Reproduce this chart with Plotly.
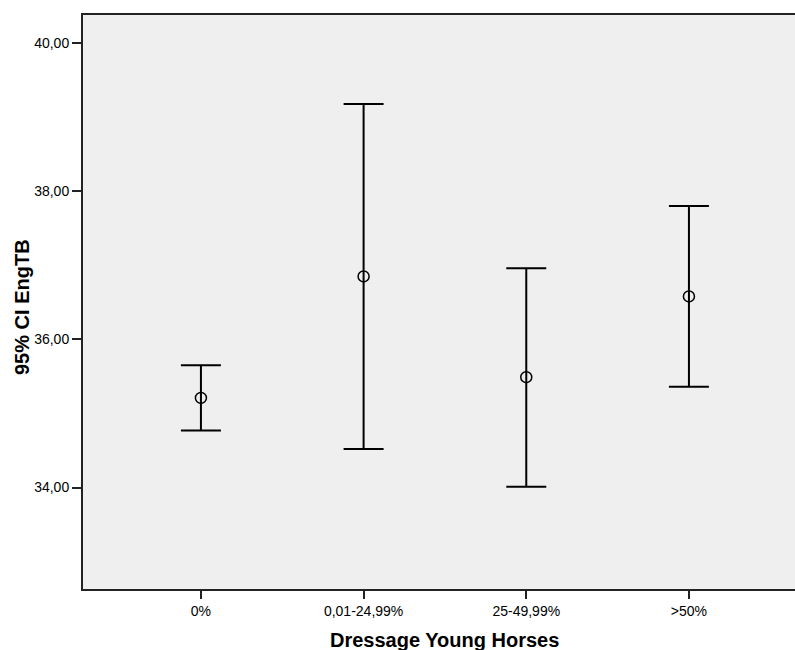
import plotly.graph_objects as go

categories = ["0%", "0,01-24,99%", "25-49,99%", ">50%"]
means = [35.21, 36.85, 35.49, 36.58]
upper = [35.65, 39.18, 36.96, 37.80]
lower = [34.77, 34.52, 34.01, 35.36]

x_idx = list(range(len(categories)))
err_plus = [u - m for u, m in zip(upper, means)]
err_minus = [m - l for m, l in zip(means, lower)]

fig = go.Figure()
fig.add_trace(go.Scatter(
    x=x_idx, y=means, mode="markers",
    marker=dict(symbol="circle-open", size=11, color="black", line=dict(width=1.5, color="black")),
    error_y=dict(type="data", symmetric=False, array=err_plus, arrayminus=err_minus,
                 color="black", thickness=2, width=20),
    showlegend=False,
))

fig.update_layout(
    width=795, height=650,
    margin=dict(l=83, r=0, t=15, b=61),
    paper_bgcolor="white", plot_bgcolor="#efefef",
    separators=",.",
    font=dict(family="Arial, Liberation Sans, sans-serif", color="black"),
    xaxis=dict(
        range=[-0.725, 3.652], tickmode="array", tickvals=x_idx, ticktext=categories,
        showline=True, linecolor="#222", linewidth=2, mirror=True,
        ticks="outside", ticklen=8, tickwidth=2, tickcolor="#222",
        showgrid=False, zeroline=False, tickfont=dict(size=14), fixedrange=True,
    ),
    yaxis=dict(
        range=[32.63, 40.38], tickvals=[34, 36, 38, 40], tickformat=".2f",
        showline=True, linecolor="#222", linewidth=2, mirror=False,
        ticks="outside", ticklen=9, tickwidth=2, tickcolor="#222",
        showgrid=False, zeroline=False, tickfont=dict(size=14),
    ),
    annotations=[
        dict(text="<b>Dressage Young Horses</b>", x=1.5, xref="x", y=-0.088, yref="paper",
             showarrow=False, font=dict(size=20), xanchor="center", yanchor="middle"),
        dict(text="<b>95% CI EngTB</b>", x=0, xref="paper", xshift=-61, yshift=-5,
             y=0.5, yref="paper", showarrow=False, textangle=-90,
             font=dict(size=20), xanchor="center", yanchor="middle"),
    ],
)

fig.write_html("out.html")
